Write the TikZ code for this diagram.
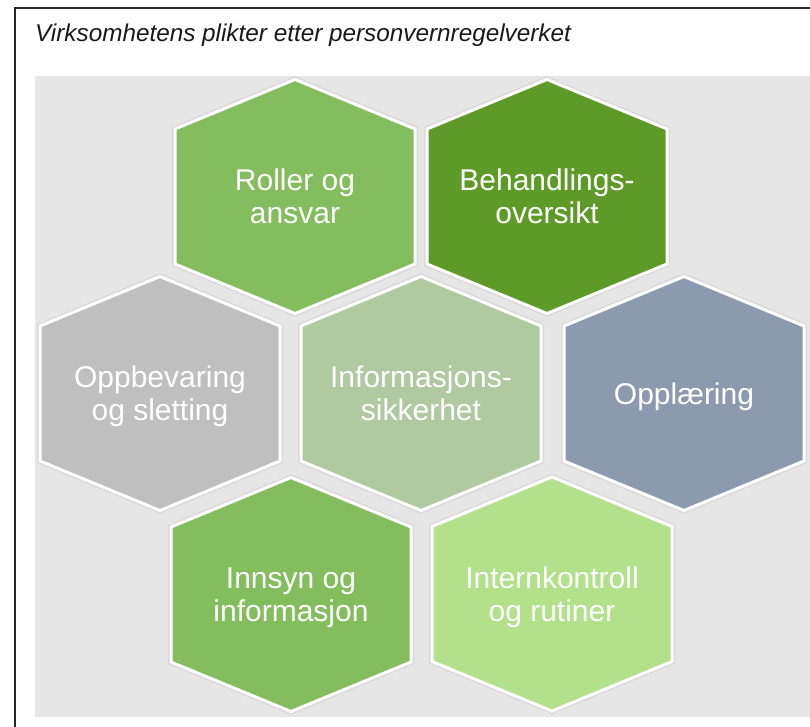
\documentclass[tikz,border=0pt]{standalone}
\usepackage{fontspec}
\setmainfont{Liberation Sans}
\definecolor{panelgrey}{HTML}{E6E6E6}
\definecolor{leafgreen}{HTML}{84BD5E}
\definecolor{forestgreen}{HTML}{5E9A28}
\definecolor{stonegrey}{HTML}{BFBFBF}
\definecolor{sagegreen}{HTML}{AFC9A0}
\definecolor{slateblue}{HTML}{8C9AB0}
\definecolor{limegreen}{HTML}{B3E08A}
\tikzset{
  frameline/.style={draw=black!85, line width=2pt},
  cellshadow/.style={draw=black!15, line width=6pt, line join=miter},
  cellborder/.style={draw=white, line width=3pt, line join=miter},
  celltext/.style={text=white, align=center, text depth=0pt,
    font=\fontsize{30}{33}\selectfont},
  titletext/.style={anchor=base west, inner sep=0pt, text=black!90,
    font=\fontsize{24.3}{28}\selectfont\itshape}
}
% one hexagonal cell: name, centre x, centre y, fill colour, label
\newcommand\honeycell[5]{%
  \draw[cellshadow] (#2,#3) ++(0,-117) -- ++(120,49.5) -- ++(0,135)
    -- ++(-120,49.5) -- ++(-120,-49.5) -- ++(0,-135) -- cycle;
  \draw[cellborder, fill=#4] (#2,#3) ++(0,-117) -- ++(120,49.5) -- ++(0,135)
    -- ++(-120,49.5) -- ++(-120,-49.5) -- ++(0,-135) -- cycle;
  \node[celltext] (#1) at (#2,#3) {#5};
}
\begin{document}
\begin{tikzpicture}[x=1pt,y=-1pt]
  \useasboundingbox (0,0) rectangle (810,727);
  \fill[white] (0,0) rectangle (810,727);
  % outer frame (continues past the right and lower edges)
  \draw[frameline] (15,727) -- (15,8) -- (810,8);
  \node[titletext] (title) at (35,42) {Virksomhetens plikter etter personvernregelverket};
  % grey panel
  \fill[panelgrey] (35,76) rectangle (810,717);
  % top row
  \honeycell{roles}{295}{196.5}{leafgreen}{Roller og\\ansvar}
  \honeycell{records}{547}{196.5}{forestgreen}{Behandlings-\\oversikt}
  % middle row
  \honeycell{retention}{160}{393.5}{stonegrey}{Oppbevaring\\og sletting}
  \honeycell{security}{421}{393.5}{sagegreen}{Informasjons-\\sikkerhet}
  \honeycell{training}{684}{393.5}{slateblue}{Opplæring}
  % bottom row
  \honeycell{access}{291}{594.5}{leafgreen}{Innsyn og\\informasjon}
  \honeycell{control}{552}{594}{limegreen}{Internkontroll\\og rutiner}
\end{tikzpicture}
\end{document}
